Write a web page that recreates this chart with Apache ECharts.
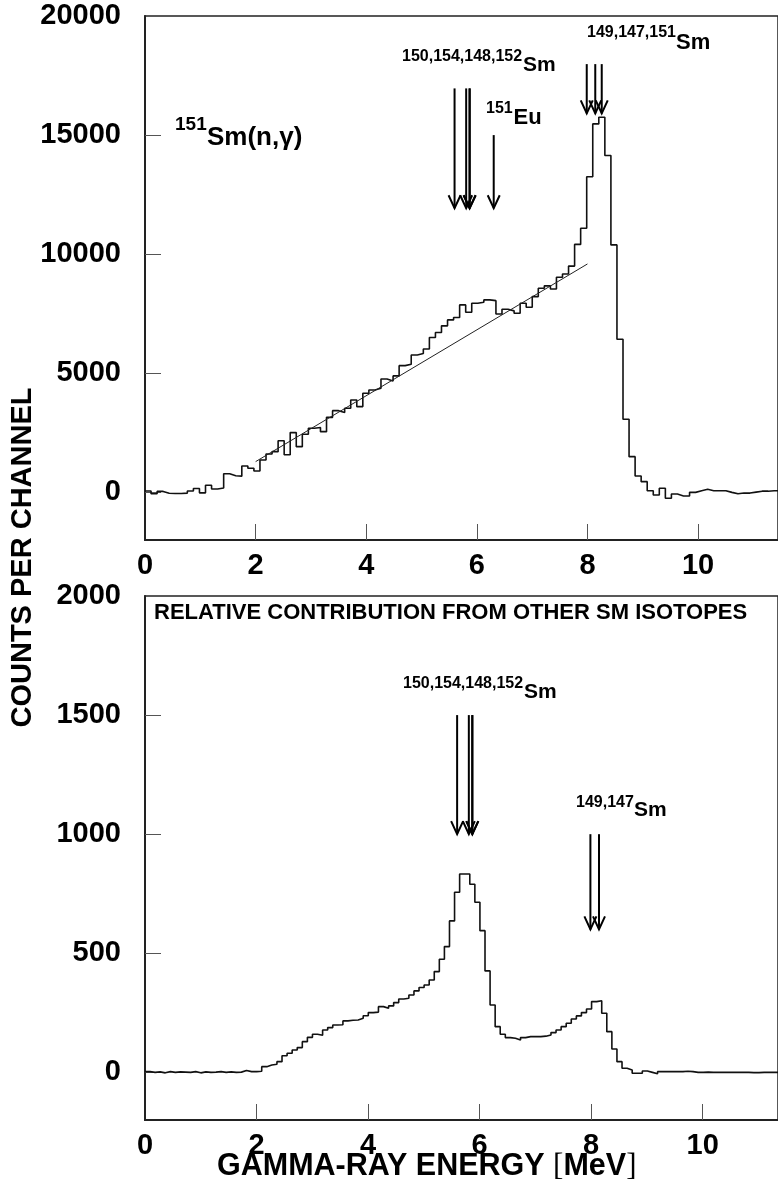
<!DOCTYPE html>
<html>
<head>
<meta charset="utf-8">
<script src="https://cdn.jsdelivr.net/npm/echarts@6/dist/echarts.min.js"></script>
<style>
  html, body { margin: 0; padding: 0; background: #fff; }
  #chart { width: 778px; height: 1186px; }
</style>
</head>
<body>
<div id="chart"></div>
<script>
// ---------------- DATA ----------------
// Top panel: 151Sm(n,gamma) spectrum, counts per channel, uniform bins starting at 0 MeV
const TOP_BIN_WIDTH = 0.1094; // MeV
const TOP_COUNTS = [
  60,-60,40,-40,-50,-50,-30,60,160,-20,
  300,140,180,780,700,680,1110,1010,900,1360,
  1610,1710,2170,1580,2510,1920,2440,2690,2720,2550,
  3150,3430,3350,3530,3880,3600,4160,4300,4370,4760,
  4680,4890,5320,5380,5770,5830,6020,6500,6710,6990,
  7240,7340,7870,7560,7940,7980,8080,8050,7490,7690,
  7620,7520,7940,7770,8220,8570,8670,8540,9030,9170,
  9500,10410,11090,13250,15470,15750,14140,10390,6430,3070,
  1500,690,450,70,-110,170,-250,-70,-150,-150,
  0,70,130,70,70,70,0,-60,-30,-30,
  10,50,50,70,70
];
// Straight background line drawn in the top panel: [energy, counts]
const TOP_FIT_LINE = [[2.0, 1290], [8.0, 9590]];

// Bottom panel: relative contribution from other Sm isotopes
const BOTTOM_BIN_WIDTH = 0.091; // MeV
const BOTTOM_COUNTS = [
  3,0,2,-2,3,0,2,1,0,3,-2,2,0,1,3,0,2,0,1,8,
  3,3,5,
  24,31,34,45,70,80,94,104,
  129,147,160,156,178,188,199,200,216,219,
  220,227,238,251,253,276,269,279,293,308,
  311,325,342,356,367,388,423,475,528,636,
  756,833,833,790,714,595,426,283,192,160,
  146,143,136,146,150,150,150,152,157,167,
  178,192,206,224,237,251,266,297,301,248,
  171,98,45,17,10,-4,-4,6,0,-6,
  3,3,3,3,3,5,3,0,0,1,0,0,0,0,0,0,0,0,-1,-1,0,0,0,0
];

// Arrows: [energy (MeV), top of shaft (counts), tip (counts)]
const TOP_ARROWS = [
  [5.597, 16960, 11930], [5.807, 16960, 11930], [5.868, 16960, 11930], [5.871, 16960, 11930],
  [6.305, 15000, 11930],
  [7.987, 17980, 15910], [8.141, 17980, 15910], [8.258, 17980, 15910]
];
const BOTTOM_ARROWS = [
  [5.597, 1500, 1000], [5.807, 1500, 1000], [5.868, 1500, 1000], [5.871, 1500, 1000],
  [7.987, 1000, 600], [8.141, 1000, 600]
];

// Axis ticks / labels
const X_TICKS = [0, 2, 4, 6, 8, 10];
const TOP_Y_TICKS = [0, 5000, 10000, 15000, 20000];
const BOTTOM_Y_TICKS = [0, 500, 1000, 1500, 2000];

// Texts
const Y_TITLE = 'COUNTS PER CHANNEL';
const X_TITLE_MAIN = 'GAMMA-RAY ENERGY ';
const X_TITLE_UNIT = 'MeV';
const BOTTOM_TITLE = 'RELATIVE CONTRIBUTION FROM OTHER SM ISOTOPES';

// ---------------- BUILD ----------------
function histPoints(counts, w) {
  const pts = counts.map((v, i) => [i * w, v]);
  pts.push([counts.length * w, counts[counts.length - 1]]);
  return pts;
}

const FONT = '"Liberation Sans", Arial, Helvetica, sans-serif';
const AXIS_COLOR = '#222';

function xAxisCfg(gridIndex, max) {
  return {
    type: 'value', gridIndex, min: 0, max,
    axisLine: { show: true, onZero: false, lineStyle: { color: AXIS_COLOR, width: 2 } },
    axisTick: { show: true, inside: true, length: 16, customValues: X_TICKS.slice(1),
                lineStyle: { color: '#555', width: 1 } },
    axisLabel: { show: true, customValues: X_TICKS, margin: 11, color: '#000',
                 fontFamily: FONT, fontWeight: 'bold', fontSize: 29,
                 formatter: v => String(v) },
    splitLine: { show: false }
  };
}
function yAxisCfg(gridIndex, min, max, ticks) {
  return {
    type: 'value', gridIndex, min, max,
    axisLine: { show: true, onZero: false, lineStyle: { color: AXIS_COLOR, width: 2 } },
    axisTick: { show: true, inside: true, length: 16, customValues: ticks.slice(0, -1),
                lineStyle: { color: '#555', width: 1 } },
    axisLabel: { show: true, customValues: ticks, margin: 24, color: '#000',
                 fontFamily: FONT, fontWeight: 'bold', fontSize: 29,
                 formatter: v => String(v) },
    splitLine: { show: false }
  };
}

function renderArrow(params, api) {
  const x = api.value(0), yTop = api.value(1), yTip = api.value(2);
  const p0 = api.coord([x, yTop]);
  const p1 = api.coord([x, yTip]);
  return {
    type: 'group',
    children: [
      { type: 'line', shape: { x1: p0[0], y1: p0[1], x2: p1[0], y2: p1[1] },
        style: { stroke: '#000', lineWidth: 2 } },
      { type: 'polyline',
        shape: { points: [[p1[0] - 6, p1[1] - 13], [p1[0], p1[1]], [p1[0] + 6, p1[1] - 13]] },
        style: { stroke: '#000', lineWidth: 2, fill: null } }
    ]
  };
}

function txt(x, y, text, size, align) {
  return {
    type: 'text', x, y, silent: true,
    style: { text, fill: '#000', font: 'bold ' + size + 'px ' + FONT,
             textAlign: align || 'left', textVerticalAlign: 'middle' }
  };
}

const option = {
  animation: false,
  backgroundColor: '#fff',
  grid: [
    { left: 145, right: -3, top: 16, height: 524, show: true, borderColor: AXIS_COLOR, borderWidth: 1.5, backgroundColor: 'transparent' },
    { left: 145, right: -3, top: 596, height: 524, show: true, borderColor: AXIS_COLOR, borderWidth: 1.5, backgroundColor: 'transparent' }
  ],
  xAxis: [ xAxisCfg(0, 11.445), xAxisCfg(1, 11.351) ],
  yAxis: [ yAxisCfg(0, -2000, 20000, TOP_Y_TICKS), yAxisCfg(1, -200, 2000, BOTTOM_Y_TICKS) ],
  series: [
    { type: 'line', xAxisIndex: 0, yAxisIndex: 0, step: 'end', showSymbol: false,
      data: histPoints(TOP_COUNTS, TOP_BIN_WIDTH),
      lineStyle: { color: '#111', width: 1.6 } },
    { type: 'line', xAxisIndex: 0, yAxisIndex: 0, showSymbol: false,
      data: TOP_FIT_LINE, lineStyle: { color: '#222', width: 1 } },
    { type: 'line', xAxisIndex: 1, yAxisIndex: 1, step: 'end', showSymbol: false,
      data: histPoints(BOTTOM_COUNTS, BOTTOM_BIN_WIDTH),
      lineStyle: { color: '#111', width: 1.6 } },
    { type: 'custom', xAxisIndex: 0, yAxisIndex: 0, renderItem: renderArrow,
      data: TOP_ARROWS, encode: { x: 0, y: [1, 2] }, clip: false },
    { type: 'custom', xAxisIndex: 1, yAxisIndex: 1, renderItem: renderArrow,
      data: BOTTOM_ARROWS, encode: { x: 0, y: [1, 2] }, clip: false }
  ],
  graphic: [
    // y-axis title
    { type: 'text', x: 22.5, y: 557.5, rotation: Math.PI / 2, silent: true,
      style: { text: Y_TITLE, fill: '#000', font: 'bold 29px ' + FONT,
               textAlign: 'center', textVerticalAlign: 'middle' } },
    // x-axis title
    { type: 'text', x: 217, y: 1167, silent: true,
      style: { text: '{a|' + X_TITLE_MAIN + '}{b|[}{a|' + X_TITLE_UNIT + '}{b|]}',
               textVerticalAlign: 'middle', textAlign: 'left',
               rich: {
                 a: { fontFamily: FONT, fontWeight: 'bold', fontSize: 30.5, fill: '#000', color: '#000' },
                 b: { fontFamily: '"Liberation Serif", serif', fontWeight: 'normal', fontSize: 31, fill: '#000', color: '#000' }
               } } },
    // top panel annotations
    txt(175, 125, '151', 19),
    txt(207, 137.5, 'Sm(n,\u03b3)', 26),
    txt(402, 56.5, '150,154,148,152', 16),
    txt(523, 65, 'Sm', 21),
    txt(486, 109, '151', 16),
    txt(513.5, 118, 'Eu', 22),
    txt(587, 32.5, '149,147,151', 16),
    txt(676, 42.5, 'Sm', 22),
    // bottom panel annotations
    txt(154, 612.5, BOTTOM_TITLE, 22),
    txt(403, 683.3, '150,154,148,152', 16),
    txt(524, 692, 'Sm', 21),
    txt(576, 802.5, '149,147', 16),
    txt(634, 810.5, 'Sm', 21)
  ]
};

const chart = echarts.init(document.getElementById('chart'), null, { renderer: 'canvas' });
chart.setOption(option);
</script>
</body>
</html>
